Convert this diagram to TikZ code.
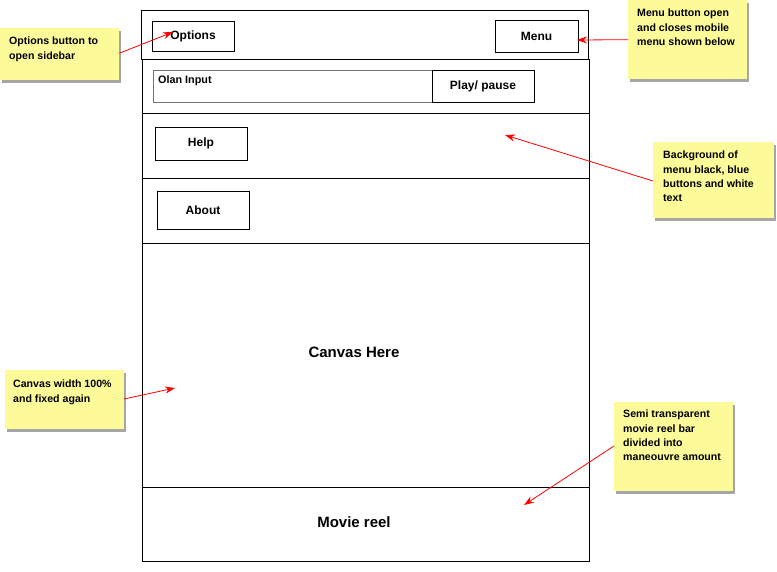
\documentclass[tikz,border=0pt]{standalone}
\usepackage{fontspec}
\setmainfont{Liberation Sans}
\usetikzlibrary{arrows.meta,calc,shadows}
\definecolor{noteyellow}{RGB}{253,251,153}
\tikzset{
  wire/.style={draw=black,line width=0.9pt},
  btn/.style={draw=black,line width=0.9pt,fill=white,inner sep=0pt,font=\bfseries\fontsize{12}{14}\selectfont},
  note/.style={fill=noteyellow,inner sep=0pt,anchor=north west,
    drop shadow={shadow xshift=2pt,shadow yshift=-3pt,opacity=0.35,fill=black}},
  notetext/.style={anchor=north west,inner sep=0pt,align=left,font=\bfseries\fontsize{10.6}{14.2}\selectfont},
  callout/.style={draw=red,line width=0.8pt,-{Stealth[length=10pt,width=7pt]}},
  bigtext/.style={font=\bfseries\fontsize{15}{17}\selectfont}
}
\begin{document}
\begin{tikzpicture}[x=1pt,y=-1pt]
\useasboundingbox (0,0) rectangle (777,572);
% wireframe rows
\draw[wire] (141,10) rectangle (588,59);
\draw[wire] (142,59) rectangle (589,113);
\draw[wire] (142,113) rectangle (589,178);
\draw[wire] (142,178) rectangle (589,243);
\draw[wire] (142,243) rectangle (589,487);
\draw[wire] (142,487) rectangle (589,561);
% buttons
\node[btn,minimum width=82pt,minimum height=30pt] (options) at (193,36) {Options};
\node[btn,minimum width=83pt,minimum height=32pt] (menu) at (536.5,36) {Menu};
\draw[draw=black!55,line width=0.9pt] (153,70) rectangle (432,102);
\node[anchor=base west,inner sep=0pt,font=\bfseries\fontsize{10.8}{12}\selectfont] (olan) at (158,84) {Olan Input};
\node[btn,minimum width=102pt,minimum height=32pt] (play) at (483,86) {Play/ pause};
\node[btn,minimum width=92pt,minimum height=33pt] (help) at (201,143.5) {Help};
\node[btn,minimum width=92pt,minimum height=38pt] (about) at (203,210) {About};
\node[bigtext] (canvas) at (354,352) {Canvas Here};
\node[bigtext] (reel) at (354,522) {Movie reel};
% notes
\node[note,minimum width=119pt,minimum height=52pt] (n1) at (0,28) {};
\node[notetext] (t1) at (9,37) {Options button to\\open sidebar};
\node[note,minimum width=119pt,minimum height=79pt] (n2) at (628,0) {};
\node[notetext] (t2) at (637,9) {Menu button open\\and closes mobile\\menu shown below};
\node[note,minimum width=121pt,minimum height=76pt] (n3) at (653,142) {};
\node[notetext] (t3) at (663,151) {Background of\\menu black, blue\\buttons and white\\text};
\node[note,minimum width=119pt,minimum height=59pt] (n4) at (5,370) {};
\node[notetext] (t4) at (13,380) {Canvas width 100\%\\and fixed again};
\node[note,minimum width=119pt,minimum height=89pt] (n5) at (614,402) {};
\node[notetext] (t5) at (623,410) {Semi transparent\\movie reel bar\\divided into\\maneouvre amount};
% arrow tips
\coordinate (tip1) at (173,32);
\coordinate (tip2) at (577,40);
\coordinate (tip3) at (505,135);
\coordinate (tip4) at (175,388);
\coordinate (tip5) at (524,505);
\draw[callout] (n1.east) ++(0,-1) -- (tip1);
\draw[callout] (n2.west) ++(0,0) -- (tip2);
\draw[callout] ($(n3.north west)+(0,39)$) -- (tip3);
\draw[callout] ($(n4.north west)+(119,29)$) -- (tip4);
\draw[callout] ($(n5.north west)+(0,44)$) -- (tip5);
\end{tikzpicture}
\end{document}
